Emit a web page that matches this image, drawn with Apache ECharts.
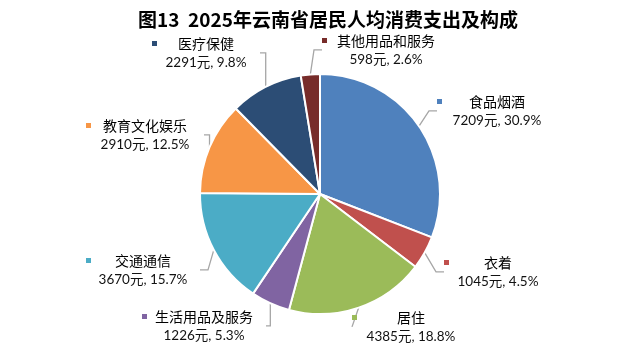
<!DOCTYPE html>
<html>
<head>
<meta charset="utf-8">
<script src="https://cdn.jsdelivr.net/npm/echarts@6/dist/echarts.min.js"></script>
<style>html,body{margin:0;padding:0;background:#fff}#c{width:625px;height:350px}</style>
</head>
<body>
<div id="c"></div>
<script>
// ---- data ----
const titleText = '图13  2025年云南省居民人均消费支出及构成';
const categories = ['食品烟酒', '衣着', '居住', '生活用品及服务', '交通通信', '教育文化娱乐', '医疗保健', '其他用品和服务'];
const values = [7209, 1045, 4385, 1226, 3670, 2910, 2291, 598];
const percents = ['30.9', '4.5', '18.8', '5.3', '15.7', '12.5', '9.8', '2.6'];
const unit = '元';

// ---- style / layout ----
const colors = ['#4F81BD', '#C0504D', '#9BBB59', '#8064A2', '#4BACC6', '#F79646', '#2C4D75', '#772C2A'];
const labelPos = [[497, 111], [498, 272], [411, 327], [204, 326], [143, 270], [145, 135], [206, 53], [386, 50]];
const gaps = [27, 35, 40, 8, 24, 12, 21, 10];
const sqW = 5;

const rich = {
  nm: { fontSize: 14, fontFamily: '"Noto Sans CJK SC"', color: '#000', lineHeight: 19 },
  val: { fontSize: 13.5, fontFamily: 'Lato, "Noto Sans CJK SC"', color: '#111', lineHeight: 19 }
};
colors.forEach((c, i) => {
  rich['sq' + i] = { width: sqW, height: sqW, backgroundColor: c, lineHeight: 19 };
  rich['g' + i] = { width: gaps[i], lineHeight: 19 };
  rich['r' + i] = { width: gaps[i] + sqW, lineHeight: 19 };
});

const chart = echarts.init(document.getElementById('c'), null, { renderer: 'canvas' });
chart.setOption({
  animation: false,
  title: {
    text: titleText,
    left: 133,
    top: 5,
    textStyle: { fontSize: 19, fontWeight: 'bold', color: '#000', fontFamily: '"Noto Sans CJK SC"' }
  },
  series: [{
    type: 'pie',
    center: [320, 194],
    radius: 120,
    startAngle: 90,
    clockwise: true,
    data: categories.map((n, i) => ({ name: n, value: values[i], itemStyle: { color: colors[i] } })),
    itemStyle: { borderColor: '#fff', borderWidth: 2 },
    label: {
      show: true,
      formatter: p => {
        const i = p.dataIndex;
        return '{sq' + i + '| }{g' + i + '| }{nm|' + categories[i] + '}{r' + i + '| }\n{val|' + values[i] + unit + ', ' + percents[i] + '%}';
      },
      rich: rich,
      align: 'center'
    },
    labelLine: { show: true, length: 10, length2: 8, lineStyle: { color: '#A6A6A6', width: 1.3 } },
    labelLayout: p => ({
      x: labelPos[p.dataIndex][0],
      y: labelPos[p.dataIndex][1],
      align: 'center',
      verticalAlign: 'middle',
      hideOverlap: false
    })
  }]
});
</script>
</body>
</html>
